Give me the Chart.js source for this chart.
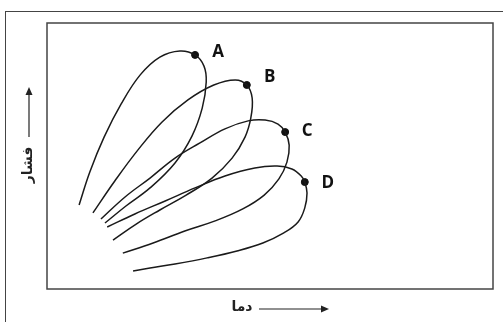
<!DOCTYPE html>
<html>
<head>
<meta charset="utf-8">
<script src="https://cdn.jsdelivr.net/npm/chart.js@4/dist/chart.umd.min.js"></script>
<style>
    body { margin: 0; background: #fff; }
    #wrap { position: relative; width: 503px; height: 322px; overflow: hidden; }
    #frame { position: absolute; left: 5px; top: 11px; width: 600px; height: 400px; border: 1.5px solid #444; }
    canvas { position: absolute; left: 0; top: 0; }
</style>
</head>
<body>
<div id="wrap">
    <div id="frame"></div>
    <canvas id="envelopeChart" width="503" height="322"></canvas>
</div>
<script>
const loopNames = ['A', 'B', 'C', 'D'];

// temperature / pressure along each envelope (relative units 0-100)
const aTemp = [7.2, 9.6, 12.8, 16.6, 20.9, 25.3, 29.8, 33.2, 35.2, 35.7, 34.8, 32.5, 28.7, 23.1, 17.7, 13.0];
const aPres = [31.6, 44.0, 57.1, 69.5, 80.5, 87.2, 89.5, 88.0, 83.8, 77.8, 68.0, 57.5, 47.4, 38.0, 31.2, 24.8];

const bTemp = [10.3, 15.2, 20.4, 25.8, 31.6, 37.4, 42.2, 44.8, 46.0, 45.7, 44.4, 41.5, 37.0, 31.2, 25.3, 20.0, 14.8];
const bPres = [28.6, 40.6, 52.3, 62.8, 71.1, 76.7, 78.6, 76.7, 71.8, 64.3, 57.1, 49.2, 41.7, 35.3, 29.7, 24.4, 18.4];

const cTemp = [12.1, 17.5, 23.1, 28.7, 34.3, 39.9, 45.1, 48.9, 51.8, 53.4, 54.3, 53.8, 52.0, 48.7, 43.9, 37.7, 30.9, 23.8, 17.0];
const cPres = [26.3, 34.6, 41.7, 49.2, 54.9, 60.2, 63.2, 63.5, 62.0, 59.0, 54.1, 47.7, 41.4, 35.3, 30.1, 25.6, 21.8, 17.3, 13.5];

const dTemp = [13.5, 19.7, 26.5, 33.2, 39.9, 46.6, 51.6, 54.9, 57.0, 57.8, 58.3, 57.8, 56.3, 53.1, 48.4, 42.6, 35.9, 28.7, 23.1, 19.3];
const dPres = [23.3, 28.2, 33.1, 38.0, 42.5, 45.5, 46.2, 45.1, 42.5, 40.2, 36.1, 30.5, 25.2, 21.1, 17.3, 14.3, 11.7, 9.4, 7.9, 6.8];

// marked points (critical points) on each envelope
const dotTemp = [33.2, 44.8, 53.4, 57.8];
const dotPres = [88.0, 76.7, 59.0, 40.2];

const xTitle = 'دما';
const yTitle = 'فشار';

function toPoints(xs, ys) {
    return xs.map((x, i) => ({ x: x, y: ys[i] }));
}

function loopDataset(name, xs, ys) {
    return {
        label: name,
        data: toPoints(xs, ys),
        showLine: true,
        borderColor: '#1a1a1a',
        borderWidth: 1.5,
        pointRadius: 0,
        tension: 0.4,
        fill: false
    };
}

function drawArrow(ctx, x1, y1, x2, y2) {
    const ang = Math.atan2(y2 - y1, x2 - x1);
    ctx.beginPath();
    ctx.moveTo(x1, y1);
    ctx.lineTo(x2 - 6 * Math.cos(ang), y2 - 6 * Math.sin(ang));
    ctx.stroke();
    ctx.beginPath();
    ctx.moveTo(x2, y2);
    ctx.lineTo(x2 - 8 * Math.cos(ang) - 3.5 * Math.sin(ang), y2 - 8 * Math.sin(ang) + 3.5 * Math.cos(ang));
    ctx.lineTo(x2 - 8 * Math.cos(ang) + 3.5 * Math.sin(ang), y2 - 8 * Math.sin(ang) - 3.5 * Math.cos(ang));
    ctx.closePath();
    ctx.fill();
}

const decorations = {
    id: 'decorations',
    afterDraw(chart) {
        const { ctx, chartArea, scales } = chart;
        ctx.save();
        // plot frame
        ctx.strokeStyle = '#444';
        ctx.lineWidth = 1.5;
        ctx.strokeRect(chartArea.left, chartArea.top, chartArea.right - chartArea.left, chartArea.bottom - chartArea.top);

        // curve names next to the marked points
        const offsets = [[23, -3], [23, -8], [22, -1], [23, 1]];
        ctx.fillStyle = '#111';
        ctx.font = 'bold 17px "Open Sans", sans-serif';
        ctx.textAlign = 'center';
        ctx.textBaseline = 'middle';
        loopNames.forEach((name, i) => {
            const px = scales.x.getPixelForValue(dotTemp[i]);
            const py = scales.y.getPixelForValue(dotPres[i]);
            ctx.fillText(name, px + offsets[i][0], py + offsets[i][1]);
        });

        // axis titles with arrows
        ctx.font = 'bold 14px "DejaVu Sans", sans-serif';
        ctx.fillStyle = '#222';
        ctx.strokeStyle = '#222';
        ctx.lineWidth = 1.2;
        const xt = chartArea.bottom + 20;
        ctx.fillText(xTitle, chartArea.left + 195, xt - 2);
        drawArrow(ctx, chartArea.left + 212, xt, chartArea.left + 282, xt);

        const yx = chartArea.left - 19;
        ctx.save();
        ctx.translate(yx, chartArea.top + 142);
        ctx.rotate(-Math.PI / 2);
        ctx.fillText(yTitle, 0, 0);
        ctx.restore();
        drawArrow(ctx, yx + 1, chartArea.top + 114, yx + 1, chartArea.top + 64);
        ctx.restore();
    }
};

new Chart(document.getElementById('envelopeChart'), {
    type: 'scatter',
    data: {
        datasets: [
            loopDataset('A', aTemp, aPres),
            loopDataset('B', bTemp, bPres),
            loopDataset('C', cTemp, cPres),
            loopDataset('D', dTemp, dPres),
            {
                label: 'points',
                data: toPoints(dotTemp, dotPres),
                pointRadius: 3.5,
                backgroundColor: '#111',
                borderColor: '#111',
                showLine: false
            }
        ]
    },
    options: {
        responsive: false,
        animation: false,
        layout: {
            padding: { left: 47, top: 23, right: 10, bottom: 33 }
        },
        plugins: {
            legend: { display: false },
            tooltip: { enabled: false }
        },
        scales: {
            x: { display: false, min: 0, max: 100 },
            y: { display: false, min: 0, max: 100 }
        }
    },
    plugins: [decorations]
});
</script>
</body>
</html>
